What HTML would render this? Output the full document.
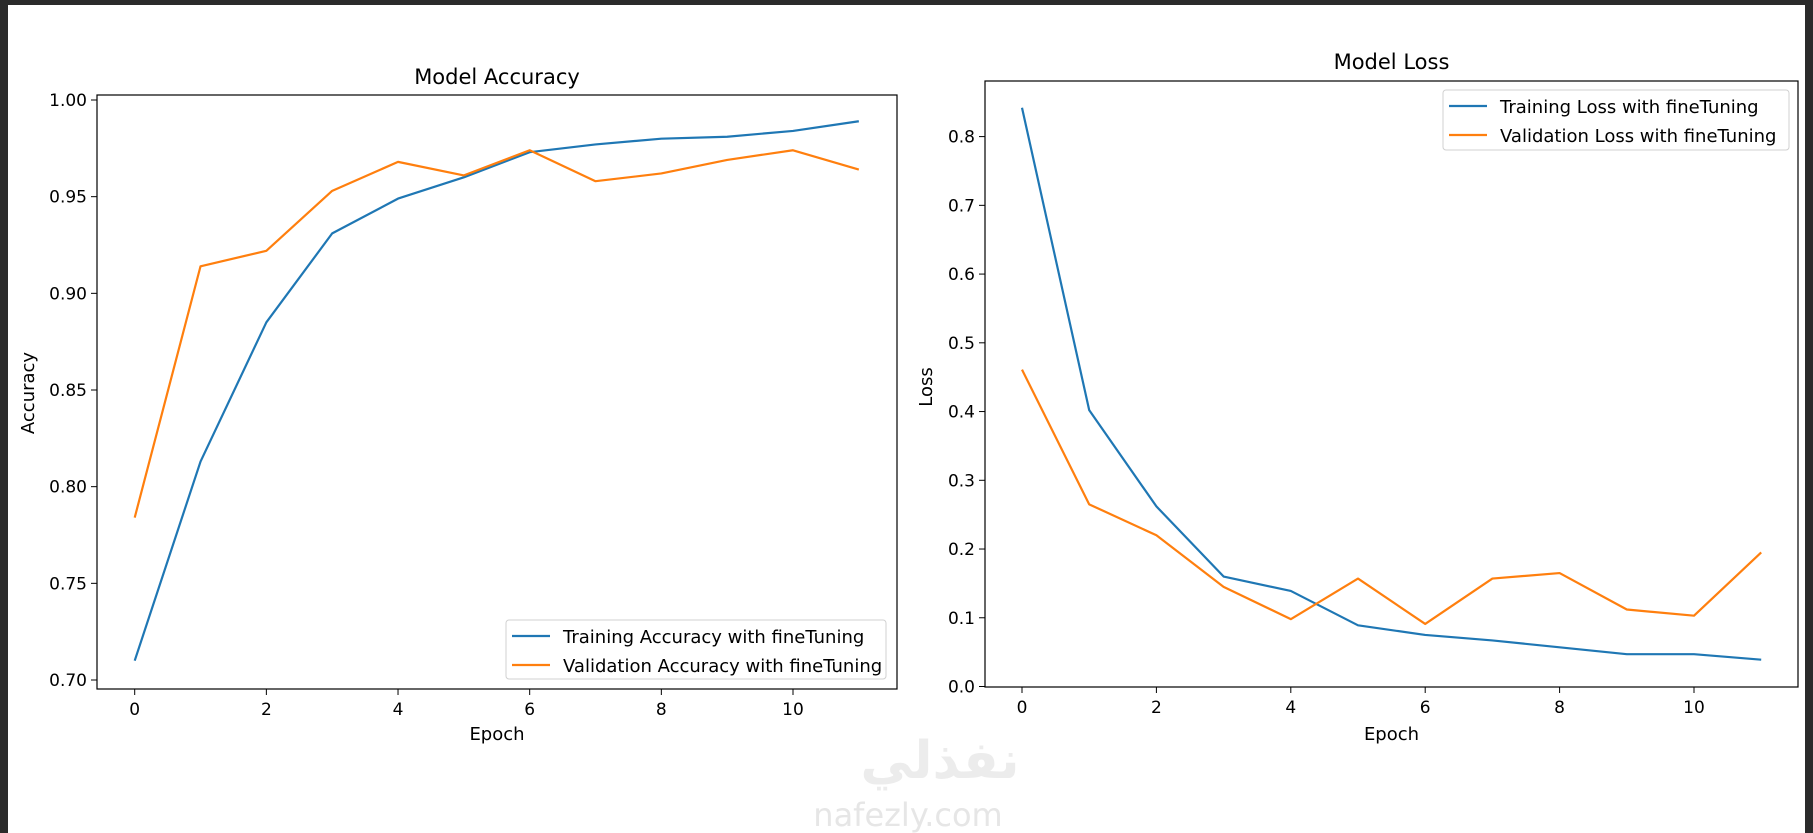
<!DOCTYPE html>
<html><head><meta charset="utf-8"><style>
html,body{margin:0;padding:0;background:#2b2b2b;}
svg{display:block;font-family:"DejaVu Sans","Liberation Sans",sans-serif;}
</style></head><body>
<svg id="c" width="1813" height="833" xmlns="http://www.w3.org/2000/svg">
<rect x="8" y="5" width="1797" height="828" fill="#ffffff"/>
<text x="940" y="778" font-size="52" font-weight="bold" fill="#ececec" text-anchor="middle" font-family="'DejaVu Sans','Noto Sans CJK SC',sans-serif">نفذلي</text>
<text x="908" y="826" font-size="32" fill="#e6e6e6" text-anchor="middle">nafezly.com</text>
<g id="g1"></g>
<g id="g2"></g>
</svg>
<script>
const epochs=[0,1,2,3,4,5,6,7,8,9,10,11];
const accTrain=[0.710,0.813,0.885,0.931,0.949,0.960,0.973,0.977,0.980,0.981,0.984,0.989];
const accVal=[0.784,0.914,0.922,0.953,0.968,0.961,0.974,0.958,0.962,0.969,0.974,0.964];
const lossTrain=[0.842,0.402,0.262,0.160,0.139,0.089,0.075,0.067,0.057,0.047,0.047,0.039];
const lossVal=[0.461,0.265,0.220,0.145,0.098,0.157,0.091,0.157,0.165,0.112,0.103,0.195];
const xTicks=[0,2,4,6,8,10];
const accTicks=[0.70,0.75,0.80,0.85,0.90,0.95,1.00];
const lossTicks=[0.0,0.1,0.2,0.3,0.4,0.5,0.6,0.7,0.8];
const NS="http://www.w3.org/2000/svg";
function mk(p,t,a){const e=document.createElementNS(NS,t);for(const k in a)e.setAttribute(k,a[k]);p.appendChild(e);return e;}
function draw(g,cfg){
 const sx=v=>cfg.x0px+(v-0)*(cfg.x10px-cfg.x0px)/10;
 const sy=v=>cfg.ya+(v-cfg.va)*(cfg.yb-cfg.ya)/(cfg.vb-cfg.va);
 let t=mk(g,'text',{x:(cfg.L+cfg.R)/2,y:cfg.titleY,'font-size':21,'text-anchor':'middle',fill:'#000'});t.textContent=cfg.title;
 
 
 xTicks.forEach(v=>{const x=sx(v);
  const l=mk(g,'line',{x1:x,x2:x,y1:cfg.B,y2:cfg.B+6,stroke:'#000','stroke-width':1});
  
  
  const tx=mk(g,'text',{x:x,y:cfg.B+26,'font-size':17,'text-anchor':'middle',fill:'#000'});tx.textContent=v;
  
  });
 cfg.yt.forEach(v=>{const y=sy(v);
  const l=mk(g,'line',{x1:cfg.L-6,x2:cfg.L,y1:y,y2:y,stroke:'#000','stroke-width':1});
  
  
  const tx=mk(g,'text',{x:cfg.L-10,y:y+6,'font-size':17,'text-anchor':'end',fill:'#000'});tx.textContent=v.toFixed(cfg.dec);
  
  });
 let xl=mk(g,'text',{x:(cfg.L+cfg.R)/2,y:740,'font-size':18,'text-anchor':'middle',fill:'#000'});xl.textContent='Epoch';
 
 
 let yl=mk(g,'text',{x:0,y:0,'font-size':18,'text-anchor':'middle',fill:'#000',transform:`translate(${cfg.ylx},${cfg.yly}) rotate(-90)`});yl.textContent=cfg.ylabel;
 
 
 cfg.series.forEach(s=>{
  const p=mk(g,'polyline',{points:s.d.map((v,i)=>sx(epochs[i])+','+sy(v)).join(' '),fill:'none',stroke:s.c,'stroke-width':2.2,'stroke-linejoin':'round'});
  
  });
 const f=mk(g,'rect',{x:cfg.L,y:cfg.T,width:cfg.R-cfg.L,height:cfg.B-cfg.T,fill:'none',stroke:'#000','stroke-width':1.2});
 
 
 const lg=cfg.leg;
 const lr=mk(g,'rect',{x:lg.x,y:lg.y,width:lg.w,height:lg.h,rx:3,fill:'#fff','fill-opacity':0.85,stroke:'#d0d0d0','stroke-width':1});
 
 
 cfg.series.forEach((s,i)=>{const y=lg.y+16+i*29;
  const l=mk(g,'line',{x1:lg.x+6,x2:lg.x+44,y1:y,y2:y,stroke:s.c,'stroke-width':2.2});
  
  
  const tx=mk(g,'text',{x:lg.x+57,y:y+7,'font-size':18,fill:'#000'});tx.textContent=s.label;
  
  });
}
draw(document.getElementById('g1'),{L:97,R:897,T:95,B:689,x0px:134.7,x10px:793,ya:680,yb:100,va:0.70,vb:1.00,yt:accTicks,dec:2,
 title:'Model Accuracy',titleY:84,ylabel:'Accuracy',ylx:34,yly:393,
 series:[{d:accTrain,c:'#1f77b4',n:'line-training-accuracy',label:'Training Accuracy with fineTuning'},{d:accVal,c:'#ff7f0e',n:'line-validation-accuracy',label:'Validation Accuracy with fineTuning'}],
 leg:{x:506,y:620,w:380,h:59}});
draw(document.getElementById('g2'),{L:985,R:1798,T:81,B:687,x0px:1022,x10px:1694,ya:686.5,yb:136.6,va:0,vb:0.8,yt:lossTicks,dec:1,
 title:'Model Loss',titleY:69,ylabel:'Loss',ylx:932,yly:387,
 series:[{d:lossTrain,c:'#1f77b4',n:'line-training-loss',label:'Training Loss with fineTuning'},{d:lossVal,c:'#ff7f0e',n:'line-validation-loss',label:'Validation Loss with fineTuning'}],
 leg:{x:1443,y:90,w:346,h:60}});
</script>
</body></html>
